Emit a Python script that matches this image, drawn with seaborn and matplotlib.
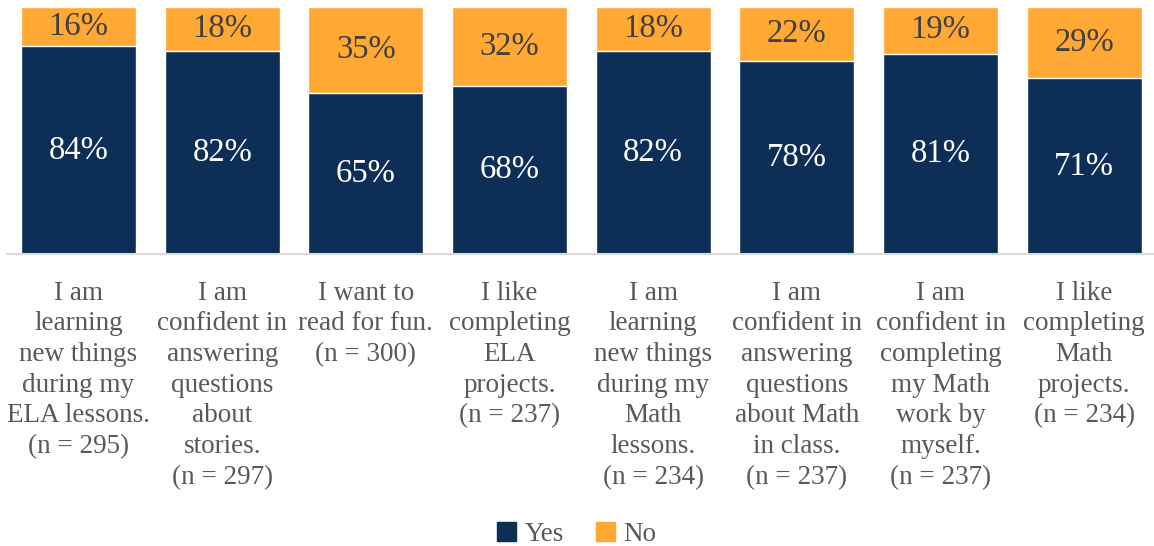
import numpy as np
import pandas as pd
import seaborn as sns
import matplotlib.pyplot as plt
from matplotlib.patches import Patch

categories = [
    "I am\nlearning\nnew things\nduring my\nELA lessons.\n(n = 295)",
    "I am\nconfident in\nanswering\nquestions\nabout\nstories.\n(n = 297)",
    "I want to\nread for fun.\n(n = 300)",
    "I like\ncompleting\nELA\nprojects.\n(n = 237)",
    "I am\nlearning\nnew things\nduring my\nMath\nlessons.\n(n = 234)",
    "I am\nconfident in\nanswering\nquestions\nabout Math\nin class.\n(n = 237)",
    "I am\nconfident in\ncompleting\nmy Math\nwork by\nmyself.\n(n = 237)",
    "I like\ncompleting\nMath\nprojects.\n(n = 234)",
]
yes = [84, 82, 65, 68, 82, 78, 81, 71]
no = [16, 18, 35, 32, 18, 22, 19, 29]

navy = "#0D2F57"
orange = "#FFA833"

def main():
    sns.set_theme(style="white")
    plt.rcParams['font.family'] = ['Liberation Serif', 'DejaVu Serif']

    df = pd.DataFrame({"cat": categories, "yes": yes, "no": no})
    df["total"] = df["yes"] + df["no"]

    fig = plt.figure(figsize=(11.54, 5.46), dpi=100)
    ax = fig.add_axes([6.7 / 1154, 0.5343, 1149.3 / 1154, 0.4535])

    sns.barplot(data=df, x="cat", y="total", color=orange, saturation=1, width=0.8, ax=ax)
    sns.barplot(data=df, x="cat", y="yes", color=navy, saturation=1, width=0.8, ax=ax)

    for i, (y, n) in enumerate(zip(yes, no)):
        ax.text(i, y / 2, f"{y}%", ha="center", va="center", color="white", fontsize=23.5)
        ax.text(i, y + n / 2, f"{n}%", ha="center", va="center", color="#404040", fontsize=23.5)

    ax.set_ylim(0, 100)
    ax.set_xlim(-0.5, 7.5)
    ax.set_yticks([])
    ax.set_xlabel("")
    ax.set_ylabel("")
    ax.set_xticks(range(len(categories)))
    ax.set_xticklabels(categories, fontsize=19.5, color="#595959", linespacing=1.3,
                       multialignment="center", va="top")
    ax.tick_params(axis="x", length=0, pad=19)
    for s in ["top", "left", "right"]:
        ax.spines[s].set_visible(False)
    ax.spines["bottom"].set_color("#D9D9D9")
    ax.spines["bottom"].set_linewidth(1.5)

    handles = [Patch(color=navy, label="Yes"), Patch(color=orange, label="No")]
    fig.legend(handles=handles, loc="lower center", bbox_to_anchor=(0.5, -0.047), ncol=2,
               frameon=False, fontsize=19.5, handlelength=0.7, handleheight=0.7,
               handletextpad=0.3, columnspacing=1.2, labelcolor="#595959")

    fig.savefig("out.png", dpi=100)

if __name__ == "__main__":
    main()
